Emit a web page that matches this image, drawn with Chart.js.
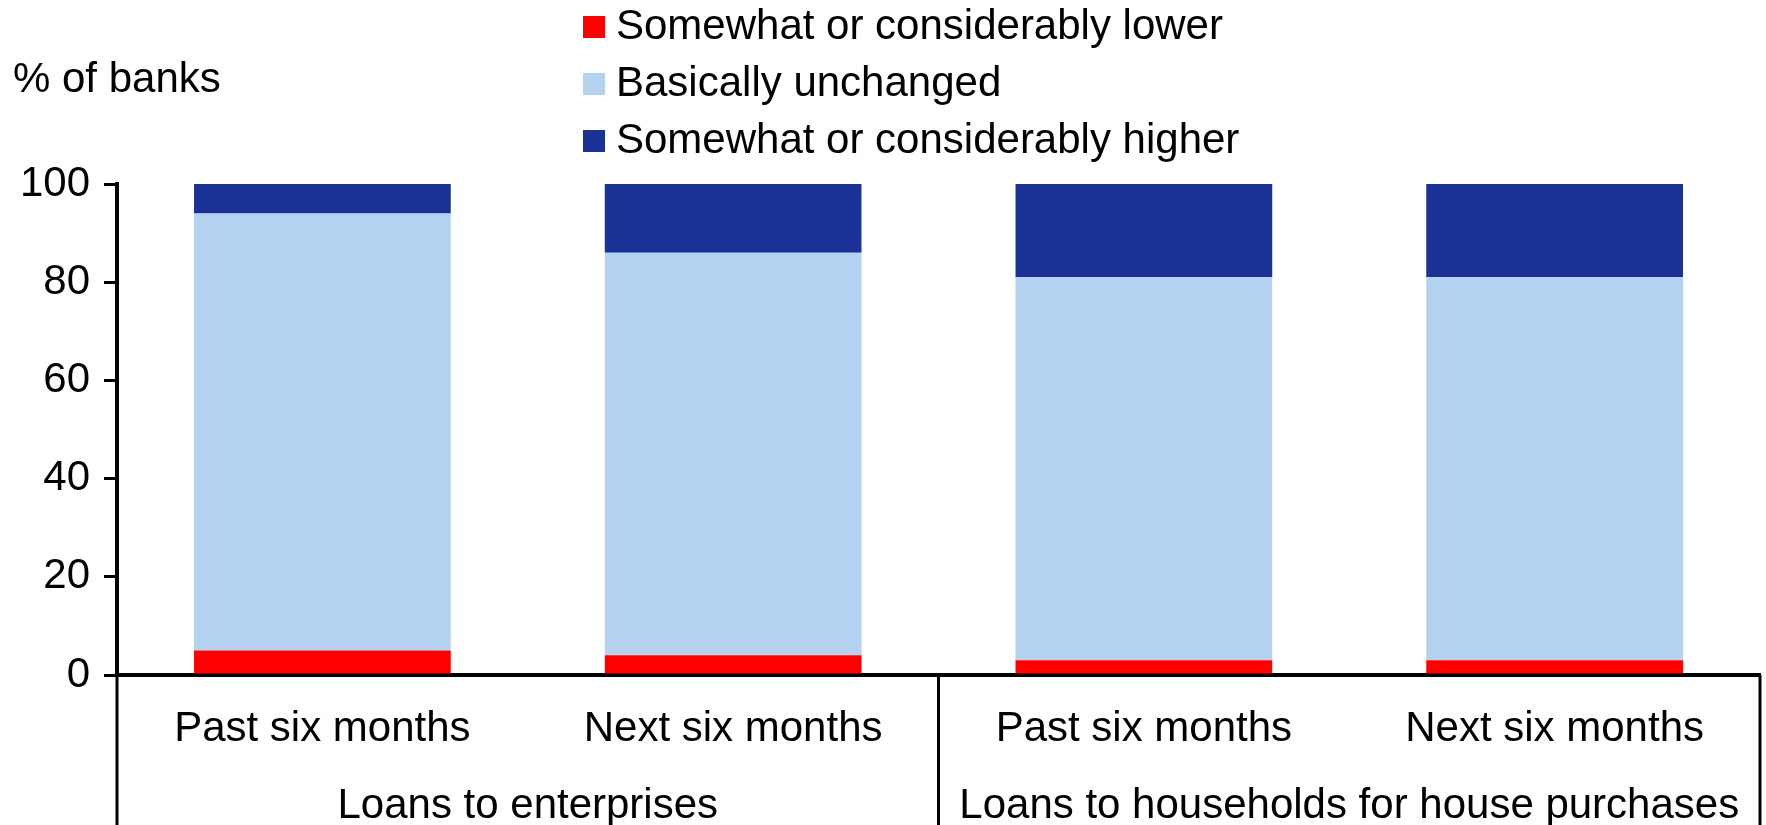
<!DOCTYPE html>
<html>
<head>
<meta charset="utf-8">
<script src="https://cdn.jsdelivr.net/npm/chart.js@4.4.1/dist/chart.umd.min.js"></script>
<style>
  html, body { margin: 0; padding: 0; background: #fff; }
  #wrap { width: 1766px; height: 825px; position: relative; }
</style>
</head>
<body>
<div id="wrap"><canvas id="chart"></canvas></div>
<script>
var categories = ["Past six months", "Next six months", "Past six months", "Next six months"];
var groups = ["Loans to enterprises", "Loans to households for house purchases"];
var seriesNames = ["Somewhat or considerably lower", "Basically unchanged", "Somewhat or considerably higher"];
var lower = [5, 4, 3, 3];
var unchanged = [89, 82, 78, 78];
var higher = [6, 14, 19, 19];
var yTicks = [0, 20, 40, 60, 80, 100];
var unitLabel = "% of banks";

var FONT = '"Liberation Sans", Arial, sans-serif';

// legend, unit label, category / group labels and the frame under the axis
var decor = {
	id: "decor",
	afterDraw: function (chart) {
		var ctx = chart.ctx;
		var xs = chart.scales.x;
		var area = chart.chartArea;
		ctx.save();
		ctx.font = "42px " + FONT;
		ctx.fillStyle = "#000";

		ctx.textAlign = "left";
		ctx.textBaseline = "alphabetic";
		ctx.fillText(unitLabel, 13, 92);

		// legend, one item per row
		ctx.textBaseline = "middle";
		chart.data.datasets.forEach(function (ds, i) {
			var cy = 27 + i * 57;
			ctx.fillStyle = ds.backgroundColor;
			ctx.fillRect(583, cy - 11, 22, 22);
			ctx.fillStyle = "#000";
			ctx.fillText(ds.label, 616, cy);
		});

		// category labels
		ctx.textAlign = "center";
		ctx.textBaseline = "alphabetic";
		categories.forEach(function (c, i) {
			ctx.fillText(c, xs.getPixelForValue(i), area.bottom + 66);
		});

		// group labels
		groups.forEach(function (g, i) {
			var cx = (xs.getPixelForValue(i * 2) + xs.getPixelForValue(i * 2 + 1)) / 2;
			ctx.fillText(g, cx, area.bottom + 143);
		});

		// vertical frame lines below the axis
		var mid = (xs.getPixelForValue(1) + xs.getPixelForValue(2)) / 2;
		ctx.strokeStyle = "#000";
		ctx.lineWidth = 3;
		[area.left, mid, area.right].forEach(function (lx) {
			ctx.beginPath();
			ctx.moveTo(lx, area.bottom);
			ctx.lineTo(lx, chart.height);
			ctx.stroke();
		});
		ctx.restore();
	},
};

var ctx = document.getElementById("chart").getContext("2d");
var chart = new Chart(ctx, {
	type: "bar",
	data: {
		labels: categories,
		datasets: [
			{ label: seriesNames[0], data: lower, backgroundColor: "#FF0000" },
			{ label: seriesNames[1], data: unchanged, backgroundColor: "#B4D2F0" },
			{ label: seriesNames[2], data: higher, backgroundColor: "#1A3296" },
		],
	},
	options: {
		responsive: true,
		maintainAspectRatio: false,
		animation: false,
		layout: {
			padding: { top: 184, right: 6, left: 0, bottom: 0 },
		},
		datasets: {
			bar: {
				categoryPercentage: 1,
				barPercentage: 0.625,
				borderWidth: 0,
			},
		},
		plugins: {
			legend: { display: false },
			tooltip: { enabled: false },
		},
		scales: {
			x: {
				stacked: true,
				z: 1,
				grid: { display: false, drawTicks: false },
				border: { display: true, color: "#000", width: 4 },
				ticks: { display: false },
				afterFit: function (s) {
					s.height = 150;
				},
			},
			y: {
				stacked: true,
				z: 1,
				min: 0,
				max: 100,
				afterBuildTicks: function (s) {
					s.ticks = yTicks.map(function (v) {
						return { value: v };
					});
				},
				grid: {
					drawOnChartArea: false,
					drawTicks: true,
					tickLength: 13,
					color: "#000",
					lineWidth: 3,
				},
				border: { display: true, color: "#000", width: 4 },
				ticks: {
					color: "#000",
					padding: 14,
					font: { family: FONT, size: 42 },
				},
				afterFit: function (s) {
					s.width = 117;
				},
			},
		},
	},
	plugins: [decor],
});
</script>
</body>
</html>
